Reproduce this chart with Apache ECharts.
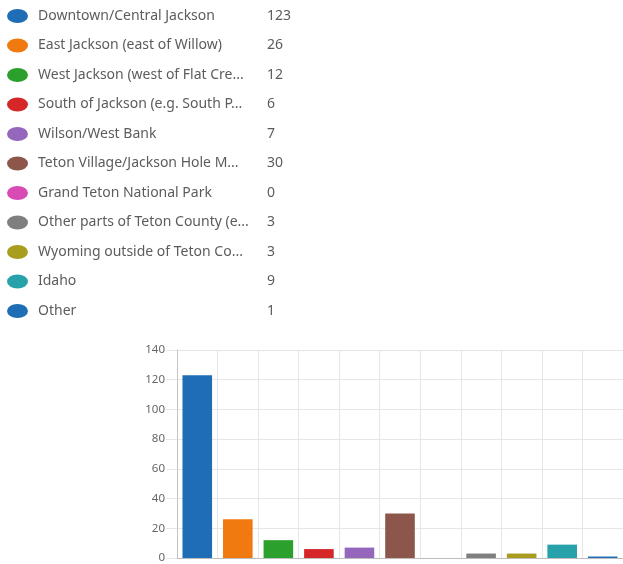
<!DOCTYPE html>
<html>
<head>
<meta charset="utf-8">
<script src="https://cdn.jsdelivr.net/npm/echarts@6/dist/echarts.min.js"></script>
<style>
  html, body { margin: 0; padding: 0; background: #fff; }
  #main { width: 623px; height: 564px; }
</style>
</head>
<body>
<div id="main"></div>
<script>
  // 类别与数值
  var categories = [
    'Downtown/Central Jackson',
    'East Jackson (east of Willow)',
    'West Jackson (west of Flat Cre...',
    'South of Jackson (e.g. South P...',
    'Wilson/West Bank',
    'Teton Village/Jackson Hole M...',
    'Grand Teton National Park',
    'Other parts of Teton County (e...',
    'Wyoming outside of Teton Co...',
    'Idaho',
    'Other'
  ];
  var counts = [123, 26, 12, 6, 7, 30, 0, 3, 3, 9, 1];
  var colors = ['#1f6db5', '#f07a10', '#2ca02c', '#d62728', '#9467bd', '#8c564b',
                '#d84bb5', '#7f7f7f', '#a89d1f', '#27a2ab', '#1f6db5'];
  var yTicks = [0, 20, 40, 60, 80, 100, 120, 140];

  var myChart = echarts.init(document.getElementById('main'));

  // 每个类别一个系列，这样图例才能对应
  var series = categories.map(function (name, i) {
    return {
      name: name,
      type: 'bar',
      stack: 'all',
      barCategoryGap: '27%',
      itemStyle: { color: colors[i] },
      data: categories.map(function (c, j) { return j === i ? counts[i] : '-'; })
    };
  });

  var txt = { color: '#5c5c5c', fontFamily: 'Noto Sans', fontSize: 14 };

  myChart.setOption({
    animation: false,
    color: colors,
    legend: {
      orient: 'vertical',
      left: 2,
      top: 4,
      itemWidth: 21,
      itemHeight: 14,
      itemGap: 15.5,
      icon: 'path://M0,1a1,1 0 1,0 2,0a1,1 0 1,0 -2,0', // 椭圆图标
      symbolKeepAspect: false,
      selectedMode: false,
      data: categories,
      formatter: function (name) {
        return '{n|' + name + '}{v|' + counts[categories.indexOf(name)] + '}';
      },
      textStyle: {
        color: txt.color,
        fontFamily: txt.fontFamily,
        fontSize: txt.fontSize,
        rich: {
          n: { width: 229, padding: [0, 0, 0, 5], color: txt.color, fontFamily: txt.fontFamily, fontSize: txt.fontSize },
          v: { color: txt.color, fontFamily: txt.fontFamily, fontSize: txt.fontSize }
        }
      }
    },
    grid: { left: 177, right: -6, top: 350, bottom: 3 },
    xAxis: {
      type: 'category',
      data: categories,
      axisLine: { lineStyle: { color: '#bdbdbd' } },
      axisTick: { show: false },
      axisLabel: { show: false, interval: 0 },
      splitLine: { show: true, interval: 0, lineStyle: { color: '#e6e6e6' } }
    },
    yAxis: {
      type: 'value',
      min: yTicks[0],
      max: yTicks[yTicks.length - 1],
      interval: 20,
      axisLine: { show: true, lineStyle: { color: '#c4c4c4' } },
      axisTick: { show: true, length: 11, lineStyle: { color: '#e6e6e6' } },
      axisLabel: { color: '#666', fontSize: 11.5, fontFamily: 'Noto Sans', margin: 12 },
      splitLine: { lineStyle: { color: '#e6e6e6' } }
    },
    series: series
  });
</script>
</body>
</html>
